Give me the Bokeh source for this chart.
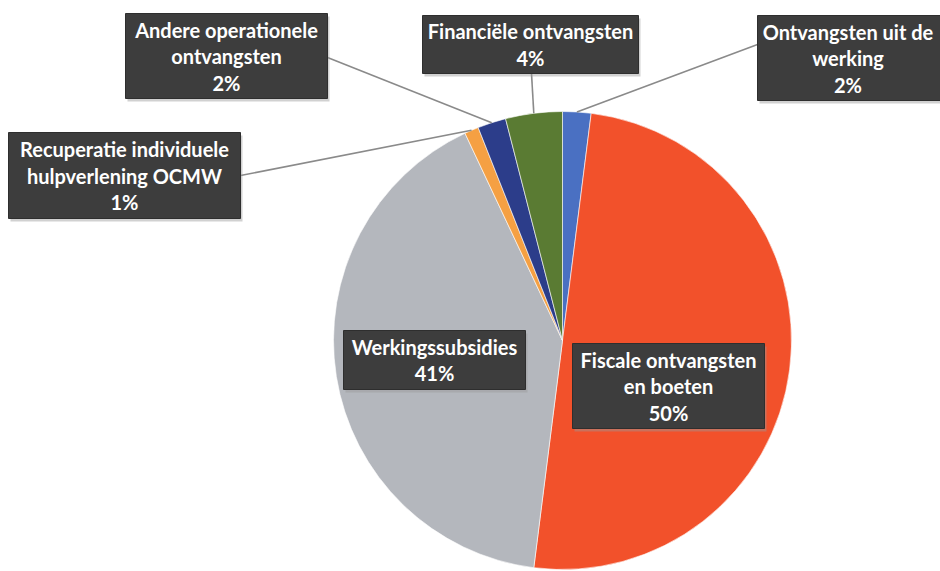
import math
from bokeh.plotting import figure
from bokeh.models import Range1d, ColumnDataSource
from bokeh.core.properties import value
from bokeh.embed import file_html
from bokeh.resources import INLINE

# ---- data (clockwise from 12 o'clock) ----
categories = [
    "Ontvangsten uit de werking",
    "Fiscale ontvangsten en boeten",
    "Werkingssubsidies",
    "Recuperatie individuele hulpverlening OCMW",
    "Andere operationele ontvangsten",
    "Financiële ontvangsten",
]
shares = [2, 50, 41, 1, 2, 4]
label_lines = [
    ["Ontvangsten uit de", "werking", "2%"],
    ["Fiscale ontvangsten", "en boeten", "50%"],
    ["Werkingssubsidies", "41%"],
    ["Recuperatie individuele", "hulpverlening OCMW", "1%"],
    ["Andere operationele", "ontvangsten", "2%"],
    ["Financiële ontvangsten", "4%"],
]
colors = ["#4A70C2", "#F2512B", "#B4B7BD", "#F5A043", "#2C3D8A", "#5A7B33"]

# ---- layout (screen px; Y = 571 - py) ----
W, H = 940, 571
def Y(py):
    return 571 - py

cx, cy, r = 562, Y(340), 229

# label boxes: left, right, top, bottom (px)
boxes = [
    (757, 945, 15, 100),
    (572, 764, 343, 428),
    (343, 525, 330, 389),
    (8, 240, 132, 218),
    (125, 327, 13, 98),
    (422, 638, 15, 73),
]
anchors = [(757, 44), None, None, (240, 175), (327, 57), (531, 73)]
LINE_GAP = 26.5

total = float(sum(shares))
starts, ends, mids = [], [], []
c = 0.0
for s in shares:
    a0 = math.pi / 2 - 2 * math.pi * c / total
    c += s
    a1 = math.pi / 2 - 2 * math.pi * c / total
    starts.append(a0)
    ends.append(a1)
    mids.append((a0 + a1) / 2)

p = figure(width=W, height=H, x_range=Range1d(0, W), y_range=Range1d(Y(H), Y(0)),
           output_backend="svg", toolbar_location=None, min_border=0)
p.axis.visible = False
p.grid.visible = False
p.outline_line_color = None
p.background_fill_color = "white"
p.border_fill_color = "white"

src = ColumnDataSource(dict(cat=categories, start=starts, end=ends, color=colors))
p.wedge(x=cx, y=cy, radius=r, start_angle="start", end_angle="end", direction="clock",
        fill_color="color", line_color="#ffffff", line_width=0.6, source=src)

for i, a in enumerate(anchors):
    if a is None:
        continue
    ex = cx + r * math.cos(mids[i])
    ey = cy + r * math.sin(mids[i])
    p.line([a[0], ex], [Y(a[1]), ey], line_color="#8a8a8a", line_width=1.6)

lefts = [b[0] for b in boxes]
rights = [b[1] for b in boxes]
tops = [Y(b[2]) for b in boxes]
bottoms = [Y(b[3]) for b in boxes]
p.quad(left=[l + 2 for l in lefts], right=[rr + 2 for rr in rights],
       top=[t - 3 for t in tops], bottom=[b - 3 for b in bottoms],
       fill_color="#9a9a9a", fill_alpha=0.45, line_color=None)
p.quad(left=lefts, right=rights, top=tops, bottom=bottoms,
       fill_color="#3d3d3d", line_color="#2e2e2e", line_width=1)

xs, ys, ts = [], [], []
for b, lines in zip(boxes, label_lines):
    mx = (b[0] + min(b[1], 938)) / 2
    my = (b[2] + b[3]) / 2
    n = len(lines)
    for k, t in enumerate(lines):
        xs.append(mx)
        ys.append(Y(my + (k - (n - 1) / 2) * LINE_GAP))
        ts.append(t)
p.text(x=xs, y=ys, text=ts, text_color="white", text_font=value("Lato"),
       text_font_size="20px", text_font_style="bold", text_align="center",
       text_baseline="middle")

open("out.html", "w").write(file_html(p, INLINE))
